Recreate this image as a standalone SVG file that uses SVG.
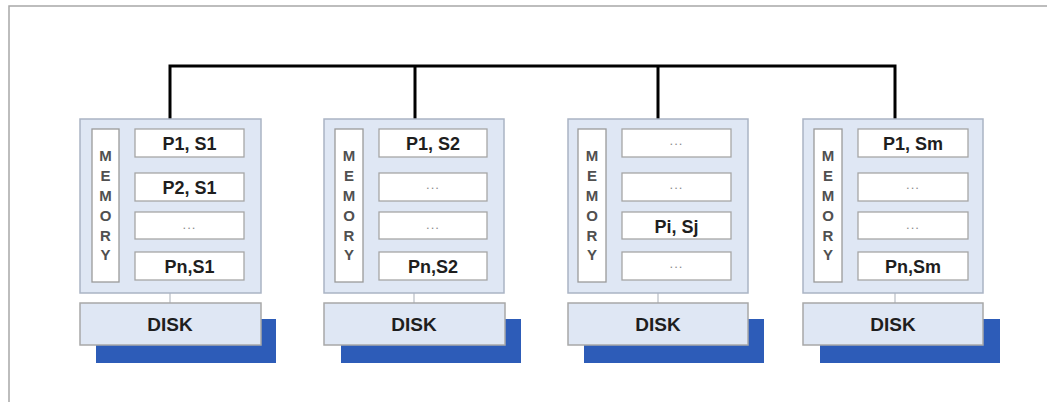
<svg xmlns="http://www.w3.org/2000/svg" width="1047" height="402" viewBox="0 0 1047 402">
<style>
.frame{fill:none;stroke:#a8a8a8;stroke-width:1.5}
.outer{fill:#dfe7f4;stroke:#aab4c4;stroke-width:1.5}
.mem{fill:#ffffff;stroke:#9a9a9a;stroke-width:1.3}
.slot{fill:#ffffff;stroke:#a6a6a6;stroke-width:1.3}
.disk{fill:#dfe7f4;stroke:#a8a8a8;stroke-width:1.5}
.shadow{fill:#2d5cb8}
.link{stroke:#b8bcc4;stroke-width:1.2}
.bus{fill:none;stroke:#000;stroke-width:3;stroke-linejoin:miter}
.lbl{font-family:"Liberation Sans",Arial,sans-serif;font-weight:bold;font-size:18px;fill:#1e1e1e;text-anchor:middle}
.dots{font-family:"Liberation Sans",Arial,sans-serif;font-size:13px;fill:#8a8a8a;text-anchor:middle;letter-spacing:1px}
.memt{font-family:"Liberation Sans",Arial,sans-serif;font-weight:bold;font-size:15px;fill:#505050;text-anchor:middle}
.disktxt{font-family:"Liberation Sans",Arial,sans-serif;font-weight:bold;font-size:19px;fill:#1e1e1e;text-anchor:middle}
</style>
<path class="frame" d="M1047 6 H9 V402"/>
<g id="connectors">
<path class="bus" d="M170 119 V66 H895 V119 M415 66 V119 M658 66 V119"/>
</g>
<g id="node1">
<rect class="shadow" x="96" y="319" width="180" height="44"/>
<line class="link" x1="170" y1="293" x2="170" y2="303"/>
<rect class="outer" x="80" y="119" width="181" height="174"/>
<rect class="mem" x="92" y="129" width="27" height="153"/>
<text class="memt"><tspan x="105.5" y="161">M</tspan><tspan x="105.5" y="181">E</tspan><tspan x="105.5" y="201">M</tspan><tspan x="105.5" y="221">O</tspan><tspan x="105.5" y="241">R</tspan><tspan x="105.5" y="260">Y</tspan></text>
<rect class="slot" x="135" y="129" width="109" height="28"/><text class="lbl" x="189.5" y="150">P1, S1</text>
<rect class="slot" x="135" y="173" width="109" height="28"/><text class="lbl" x="189.5" y="194">P2, S1</text>
<rect class="slot" x="135" y="212" width="109" height="27"/><text class="dots" x="189.5" y="229">...</text>
<rect class="slot" x="135" y="252" width="109" height="28"/><text class="lbl" x="189.5" y="273">Pn,S1</text>
<rect class="disk" x="80" y="303" width="181" height="42"/>
<text class="disktxt" x="170" y="331">DISK</text>
</g>
<g id="node2">
<rect class="shadow" x="341" y="319" width="180" height="44"/>
<line class="link" x1="414" y1="293" x2="414" y2="303"/>
<rect class="outer" x="324" y="119" width="180" height="174"/>
<rect class="mem" x="335" y="129" width="28" height="153"/>
<text class="memt"><tspan x="349" y="161">M</tspan><tspan x="349" y="181">E</tspan><tspan x="349" y="201">M</tspan><tspan x="349" y="221">O</tspan><tspan x="349" y="241">R</tspan><tspan x="349" y="260">Y</tspan></text>
<rect class="slot" x="379" y="129" width="108" height="28"/><text class="lbl" x="433" y="150">P1, S2</text>
<rect class="slot" x="379" y="173" width="108" height="28"/><text class="dots" x="433" y="189">...</text>
<rect class="slot" x="379" y="212" width="108" height="27"/><text class="dots" x="433" y="229">...</text>
<rect class="slot" x="379" y="252" width="108" height="28"/><text class="lbl" x="433" y="273">Pn,S2</text>
<rect class="disk" x="324" y="303" width="181" height="42"/>
<text class="disktxt" x="414" y="331">DISK</text>
</g>
<g id="node3">
<rect class="shadow" x="584" y="319" width="180" height="44"/>
<line class="link" x1="658" y1="293" x2="658" y2="303"/>
<rect class="outer" x="568" y="119" width="180" height="174"/>
<rect class="mem" x="578" y="129" width="28" height="153"/>
<text class="memt"><tspan x="592" y="161">M</tspan><tspan x="592" y="181">E</tspan><tspan x="592" y="201">M</tspan><tspan x="592" y="221">O</tspan><tspan x="592" y="241">R</tspan><tspan x="592" y="260">Y</tspan></text>
<rect class="slot" x="622" y="129" width="109" height="28"/><text class="dots" x="676.5" y="145">...</text>
<rect class="slot" x="622" y="173" width="109" height="28"/><text class="dots" x="676.5" y="189">...</text>
<rect class="slot" x="622" y="212" width="109" height="27"/><text class="lbl" x="676.5" y="233">Pi, Sj</text>
<rect class="slot" x="622" y="252" width="109" height="28"/><text class="dots" x="676.5" y="268">...</text>
<rect class="disk" x="568" y="303" width="180" height="42"/>
<text class="disktxt" x="658" y="331">DISK</text>
</g>
<g id="node4">
<rect class="shadow" x="820" y="319" width="180" height="44"/>
<line class="link" x1="895" y1="293" x2="895" y2="303"/>
<rect class="outer" x="803" y="119" width="180" height="174"/>
<rect class="mem" x="814" y="129" width="28" height="153"/>
<text class="memt"><tspan x="828" y="161">M</tspan><tspan x="828" y="181">E</tspan><tspan x="828" y="201">M</tspan><tspan x="828" y="221">O</tspan><tspan x="828" y="241">R</tspan><tspan x="828" y="260">Y</tspan></text>
<rect class="slot" x="858" y="129" width="110" height="28"/><text class="lbl" x="913" y="150">P1, Sm</text>
<rect class="slot" x="858" y="173" width="110" height="28"/><text class="dots" x="913" y="189">...</text>
<rect class="slot" x="858" y="212" width="110" height="27"/><text class="dots" x="913" y="229">...</text>
<rect class="slot" x="858" y="252" width="110" height="28"/><text class="lbl" x="913" y="273">Pn,Sm</text>
<rect class="disk" x="803" y="303" width="180" height="42"/>
<text class="disktxt" x="893" y="331">DISK</text>
</g>
</svg>
